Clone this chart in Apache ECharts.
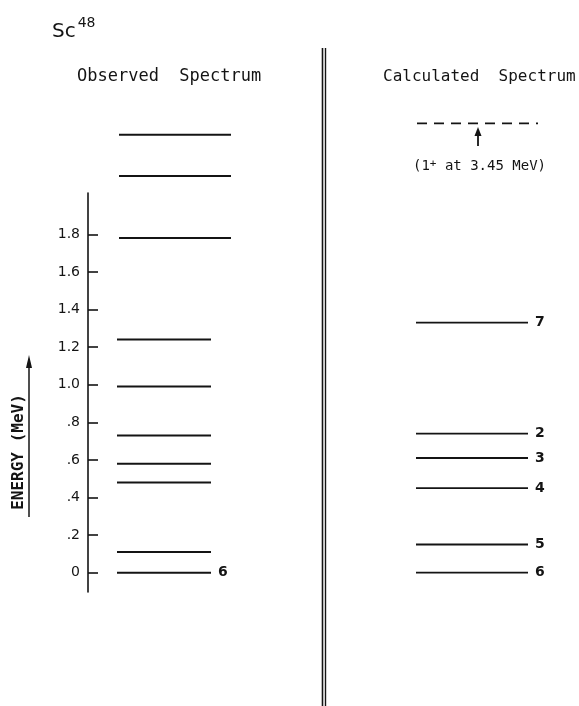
<!DOCTYPE html>
<html>
<head>
<meta charset="utf-8">
<script src="https://cdn.jsdelivr.net/npm/echarts@6/dist/echarts.min.js"></script>
<style>
html,body{margin:0;padding:0;background:#fff;}
#chart{width:579px;height:706px;}
</style>
</head>
<body>
<div id="chart"></div>
<script>
// ---------- data ----------
const obsLevels   = [0, 0.11, 0.48, 0.58, 0.73, 0.99, 1.24, 1.78, 2.11, 2.33];
const obsLabels   = ['6', '', '', '', '', '', '', '', '', ''];
const calcLevels  = [0, 0.15, 0.45, 0.61, 0.74, 1.33];
const calcLabels  = ['6', '5', '4', '3', '2', '7'];
const offScaleLevel   = 3.45;   // 1+ state (MeV), beyond the frame
const offScaleDrawnAt = 2.39;   // where the dashed marker sits on the energy scale
const tickValues  = [0, 0.2, 0.4, 0.6, 0.8, 1.0, 1.2, 1.4, 1.6, 1.8];
const tickLabels  = ['0', '.2', '.4', '.6', '.8', '1.0', '1.2', '1.4', '1.6', '1.8'];

// ---------- layout ----------
const FONT = '"DejaVu Sans Mono", monospace';
const SANS = '"DejaVu Sans", sans-serif';
const INK = '#141414';
const OBS_SHORT = [29, 123];
const OBS_LONG  = [31, 143];
const CALC_SPAN = [328, 440];
const DASH_SPAN = [329, 450];

function levelSeries(e, label, span, extra) {
  return Object.assign({
    type: 'line',
    symbol: 'none',
    clip: false,
    silent: true,
    data: [[span[0], e], [span[1], e]],
    lineStyle: { color: INK, width: 2 },
    endLabel: {
      show: !!label,
      formatter: label || '',
      distance: 7,
      fontFamily: SANS,
      fontSize: 14,
      fontWeight: 'bold',
      color: INK
    }
  }, extra || {});
}

const series = [];
obsLevels.forEach((e, i) => {
  series.push(levelSeries(e, obsLabels[i], e >= 1.7 ? OBS_LONG : OBS_SHORT));
});
calcLevels.forEach((e, i) => {
  series.push(levelSeries(e, calcLabels[i], CALC_SPAN, { lineStyle: { color: INK, width: 1.8 } }));
});
series.push(levelSeries(offScaleDrawnAt, '', DASH_SPAN, {
  name: '1+ at ' + offScaleLevel + ' MeV',
  lineStyle: { color: INK, width: 1.8, type: [10, 7] }
}));

const chart = echarts.init(document.getElementById('chart'), null, { renderer: 'canvas' });
chart.setOption({
  backgroundColor: '#fff',
  animation: false,
  title: [
    {
      text: '{a|Sc}{b|48}',
      left: 52, top: 16, padding: 0,
      textStyle: {
        rich: {
          a: { fontFamily: SANS, fontSize: 20, fontWeight: 'normal', color: INK, lineHeight: 32 },
          b: { fontFamily: SANS, fontSize: 14, fontWeight: 'normal', color: INK, lineHeight: 14, verticalAlign: 'top', padding: [0, 0, 0, 2] }
        }
      }
    },
    {
      text: 'Observed  Spectrum',
      left: 77, top: 68, padding: 0,
      textStyle: { fontFamily: FONT, fontSize: 17, fontWeight: 'normal', color: INK }
    },
    {
      text: 'Calculated  Spectrum',
      left: 383, top: 69, padding: 0,
      textStyle: { fontFamily: FONT, fontSize: 16, fontWeight: 'normal', color: INK }
    }
  ],
  grid: { left: 88, top: 193, right: 0, bottom: 114, containLabel: false },
  xAxis: { type: 'value', min: 0, max: 491, show: false, splitLine: { show: false } },
  yAxis: {
    type: 'value',
    min: -0.1027,
    max: 2.0197,
    axisLine: { show: true, lineStyle: { color: INK, width: 1.6 } },
    axisTick: { show: true, inside: true, length: 10, customValues: tickValues, lineStyle: { color: INK, width: 1.6 } },
    axisLabel: {
      customValues: tickValues,
      margin: 8,
      fontFamily: SANS,
      fontSize: 14,
      color: INK,
      formatter: function (v) {
        for (let i = 0; i < tickValues.length; i++) if (Math.abs(tickValues[i] - v) < 1e-6) return tickLabels[i];
        return '';
      }
    },
    splitLine: { show: false }
  },
  graphic: [
    // double divider
    { type: 'line', shape: { x1: 322.5, y1: 48, x2: 322.5, y2: 706 }, style: { stroke: INK, lineWidth: 1.6 } },
    { type: 'line', shape: { x1: 325.5, y1: 48, x2: 325.5, y2: 706 }, style: { stroke: INK, lineWidth: 1.4 } },
    // energy axis title with arrow
    { type: 'text', x: 19, y: 452, rotation: Math.PI / 2,
      style: { text: 'ENERGY (MeV)', fontFamily: FONT, fontSize: 16, fontWeight: 'bold', fill: INK, align: 'center', verticalAlign: 'middle' } },
    { type: 'line', shape: { x1: 29, y1: 517, x2: 29, y2: 362 }, style: { stroke: INK, lineWidth: 1.5 } },
    { type: 'polygon', shape: { points: [[29, 355], [26, 368], [32, 368]] }, style: { fill: INK } },
    // off-scale marker arrow and note
    { type: 'line', shape: { x1: 478, y1: 146, x2: 478, y2: 133 }, style: { stroke: INK, lineWidth: 1.8 } },
    { type: 'polygon', shape: { points: [[478, 127], [474.5, 136], [481.5, 136]] }, style: { fill: INK } },
    { type: 'text', x: 413, y: 166,
      style: {
        text: '(1{s|+} at ' + offScaleLevel.toFixed(2) + ' MeV)',
        fontFamily: FONT, fontSize: 14, fill: INK, verticalAlign: 'middle',
        rich: { s: { fontFamily: FONT, fontSize: 11, fill: INK, verticalAlign: 'top', lineHeight: 11 } }
      } }
  ],
  series: series
});
</script>
</body>
</html>
